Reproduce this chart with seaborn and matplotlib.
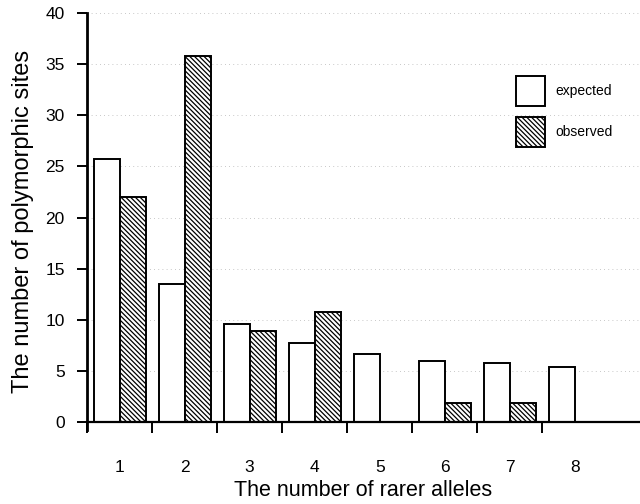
import numpy as np
import pandas as pd
import matplotlib
matplotlib.use("Agg")
import matplotlib.pyplot as plt
import seaborn as sns

# data
n_rarer = ["1", "2", "3", "4", "5", "6", "7", "8"]
expected = [25.7, 13.5, 9.6, 7.8, 6.7, 5.95, 5.8, 5.45]
observed = [22.0, 35.8, 8.95, 10.75, np.nan, 1.85, 1.85, np.nan]
series = ["expected", "observed"]

df = pd.DataFrame({
    "k": n_rarer * 2,
    "count": expected + observed,
    "type": [series[0]] * len(n_rarer) + [series[1]] * len(n_rarer),
})

sns.set_style("white")
plt.rcParams["font.family"] = ["Liberation Sans", "DejaVu Sans"]
plt.rcParams["hatch.linewidth"] = 0.9
for key in ["text.color", "axes.labelcolor", "xtick.color", "ytick.color",
            "axes.edgecolor"]:
    plt.rcParams[key] = "black"

fig = plt.figure(figsize=(6.4, 5.04), dpi=100)
ax = fig.add_axes([87 / 640, 1 - 430 / 504, 1 - 87 / 640, (430 - 13) / 504])

sns.barplot(data=df, x="k", y="count", hue="type", order=n_rarer,
            hue_order=series, palette=["white", "white"], edgecolor="black",
            linewidth=1.4, width=0.8, ax=ax, legend=False)

# dense diagonal hatch on the observed bars
for bar in ax.containers[1]:
    bar.set_hatch("\\\\\\\\\\\\\\")

ax.set_xlim(-0.5, 8.0)
ax.set_ylim(-0.75, 40)

# dotted horizontal grid
for y in range(5, 41, 5):
    ax.axhline(y, color="#b5b5b5", lw=0.6, ls=(0, (1, 4)), zorder=0)

for s in ["top", "right"]:
    ax.spines[s].set_visible(False)
ax.spines["left"].set_linewidth(2)
ax.spines["bottom"].set_linewidth(1.6)
ax.spines["bottom"].set_position(("data", 0))

ax.set_yticks(range(0, 41, 5))
ax.tick_params(axis="y", direction="out", length=7, width=1.4, pad=9,
               labelsize=12.5, left=True)
ax.set_xticks(range(len(n_rarer)))
ax.set_xticklabels(n_rarer)
ax.set_xticks(np.arange(-0.5, 7.0, 1.0), minor=True)
ax.tick_params(axis="x", which="major", length=0, pad=27, labelsize=12.5)
ax.tick_params(axis="x", which="minor", direction="out", length=8, width=1.4,
               bottom=True)

ax.set_xlabel("The number of rarer alleles", fontsize=15.5, labelpad=4)
ax.set_ylabel("The number of polymorphic sites", fontsize=17, labelpad=8)

ax.legend(handles=[ax.containers[0], ax.containers[1]], labels=series,
          loc="upper left", bbox_to_anchor=(516 / 640, 1 - 76 / 504),
          bbox_transform=fig.transFigure, frameon=False, fontsize=10,
          handlelength=2.1, handleheight=2.9, labelspacing=0.85,
          handletextpad=0.7, borderpad=0, borderaxespad=0)

fig.savefig("out.png", dpi=100)
